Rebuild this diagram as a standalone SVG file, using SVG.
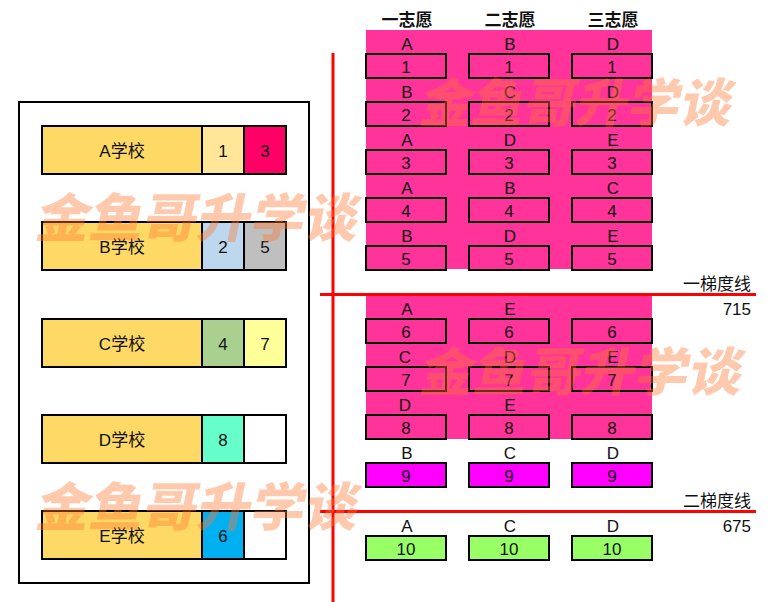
<svg xmlns="http://www.w3.org/2000/svg" width="767" height="602" viewBox="0 0 767 602">
<style>
text{font-family:"Liberation Sans","Noto Sans CJK SC",sans-serif;font-size:17px;fill:#111;text-anchor:middle}
.hd{font-family:"Noto Sans CJK SC",sans-serif;font-weight:bold;font-size:17px}
.lb{text-anchor:end}
.cell{stroke:#000;stroke-width:2}
.box{stroke:#000;stroke-width:2;fill:#FF3399}
.wm{font-family:"Noto Sans CJK SC",sans-serif;font-weight:900;font-size:52px;fill:#FF7832;fill-opacity:0.4;text-anchor:start}
.red{stroke:#FF0000;stroke-width:3}
</style>
<rect width="767" height="602" fill="#fff"/>
<g id="schools">
<rect x="19" y="102" width="290" height="481" fill="none" stroke="#000" stroke-width="2"/>
<g id="schoolA">
<rect class="cell" x="42" y="126" width="160" height="48" fill="#FFD966"/>
<rect class="cell" x="202" y="126" width="42" height="48" fill="#FFE699"/>
<rect class="cell" x="244" y="126" width="42" height="48" fill="#FF0066"/>
<text x="122" y="157">A学校</text><text x="223" y="157">1</text><text x="265" y="157">3</text>
</g>
<g id="schoolB">
<rect class="cell" x="42" y="222" width="160" height="48" fill="#FFD966"/>
<rect class="cell" x="202" y="222" width="42" height="48" fill="#BDD7EE"/>
<rect class="cell" x="244" y="222" width="42" height="48" fill="#BFBFBF"/>
<text x="122" y="253">B学校</text><text x="223" y="253">2</text><text x="265" y="253">5</text>
</g>
<g id="schoolC">
<rect class="cell" x="42" y="319" width="160" height="48" fill="#FFD966"/>
<rect class="cell" x="202" y="319" width="42" height="48" fill="#A9D08E"/>
<rect class="cell" x="244" y="319" width="42" height="48" fill="#FFFF99"/>
<text x="122" y="350">C学校</text><text x="223" y="350">4</text><text x="265" y="350">7</text>
</g>
<g id="schoolD">
<rect class="cell" x="42" y="415" width="160" height="48" fill="#FFD966"/>
<rect class="cell" x="202" y="415" width="42" height="48" fill="#66FFCC"/>
<rect class="cell" x="244" y="415" width="42" height="48" fill="#FFFFFF"/>
<text x="122" y="446">D学校</text><text x="223" y="446">8</text>
</g>
<g id="schoolE">
<rect class="cell" x="42" y="511" width="160" height="48" fill="#FFD966"/>
<rect class="cell" x="202" y="511" width="42" height="48" fill="#00B0F0"/>
<rect class="cell" x="244" y="511" width="42" height="48" fill="#FFFFFF"/>
<text x="122" y="542">E学校</text><text x="223" y="542">6</text>
</g>
</g>
<g id="background">
<rect x="366" y="30" width="286" height="239" fill="#FF3399"/>
<rect x="366" y="295" width="286" height="144" fill="#FF3399"/>
</g>
<g id="headers">
<text class="hd" x="407" y="26">一志愿</text>
<text class="hd" x="510" y="26">二志愿</text>
<text class="hd" x="613" y="26">三志愿</text>
</g>
<g id="rows">
<g id="row1"><text x="407" y="50">A</text><text x="510" y="50">B</text><text x="613" y="50">D</text>
<rect class="box" x="366" y="54" width="80" height="24"/><rect class="box" x="469" y="54" width="80" height="24"/><rect class="box" x="572" y="54" width="80" height="24"/>
<text x="406" y="73">1</text><text x="509" y="73">1</text><text x="612" y="73">1</text></g>
<g id="row2"><text x="407" y="98">B</text><text x="510" y="98">C</text><text x="613" y="98">D</text>
<rect class="box" x="366" y="102" width="80" height="24"/><rect class="box" x="469" y="102" width="80" height="24"/><rect class="box" x="572" y="102" width="80" height="24"/>
<text x="406" y="121">2</text><text x="509" y="121">2</text><text x="612" y="121">2</text></g>
<g id="row3"><text x="407" y="146">A</text><text x="510" y="146">D</text><text x="613" y="146">E</text>
<rect class="box" x="366" y="150" width="80" height="24"/><rect class="box" x="469" y="150" width="80" height="24"/><rect class="box" x="572" y="150" width="80" height="24"/>
<text x="406" y="169">3</text><text x="509" y="169">3</text><text x="612" y="169">3</text></g>
<g id="row4"><text x="407" y="194">A</text><text x="510" y="194">B</text><text x="613" y="194">C</text>
<rect class="box" x="366" y="198" width="80" height="24"/><rect class="box" x="469" y="198" width="80" height="24"/><rect class="box" x="572" y="198" width="80" height="24"/>
<text x="406" y="217">4</text><text x="509" y="217">4</text><text x="612" y="217">4</text></g>
<g id="row5"><text x="407" y="242">B</text><text x="510" y="242">D</text><text x="613" y="242">E</text>
<rect class="box" x="366" y="246" width="80" height="24"/><rect class="box" x="469" y="246" width="80" height="24"/><rect class="box" x="572" y="246" width="80" height="24"/>
<text x="406" y="265">5</text><text x="509" y="265">5</text><text x="612" y="265">5</text></g>
<g id="row6"><text x="407" y="315">A</text><text x="510" y="315">E</text>
<rect class="box" x="366" y="319" width="80" height="24"/><rect class="box" x="469" y="319" width="80" height="24"/><rect class="box" x="572" y="319" width="80" height="24"/>
<text x="406" y="338">6</text><text x="509" y="338">6</text><text x="612" y="338">6</text></g>
<g id="row7"><text x="405" y="363">C</text><text x="510" y="363">D</text><text x="613" y="363">E</text>
<rect class="box" x="366" y="367" width="80" height="24"/><rect class="box" x="469" y="367" width="80" height="24"/><rect class="box" x="572" y="367" width="80" height="24"/>
<text x="406" y="386">7</text><text x="509" y="386">7</text><text x="612" y="386">7</text></g>
<g id="row8"><text x="405" y="411">D</text><text x="510" y="411">E</text>
<rect class="box" x="366" y="415" width="80" height="24"/><rect class="box" x="469" y="415" width="80" height="24"/><rect class="box" x="572" y="415" width="80" height="24"/>
<text x="406" y="434">8</text><text x="509" y="434">8</text><text x="612" y="434">8</text></g>
<g id="row9"><text x="407" y="459">B</text><text x="510" y="459">C</text><text x="613" y="459">D</text>
<rect class="box" x="366" y="463" width="80" height="24" style="fill:#FF00FF"/><rect class="box" x="469" y="463" width="80" height="24" style="fill:#FF00FF"/><rect class="box" x="572" y="463" width="80" height="24" style="fill:#FF00FF"/>
<text x="406" y="482">9</text><text x="509" y="482">9</text><text x="612" y="482">9</text></g>
<g id="row10"><text x="407" y="532">A</text><text x="510" y="532">C</text><text x="613" y="532">D</text>
<rect class="box" x="366" y="536" width="80" height="24" style="fill:#99FF66"/><rect class="box" x="469" y="536" width="80" height="24" style="fill:#99FF66"/><rect class="box" x="572" y="536" width="80" height="24" style="fill:#99FF66"/>
<text x="406" y="555">10</text><text x="509" y="555">10</text><text x="612" y="555">10</text></g>
</g>
<g id="connectors">
<line class="red" x1="333" y1="53" x2="333" y2="602"/>
<line class="red" x1="320" y1="294.5" x2="756" y2="294.5"/>
<line class="red" x1="320" y1="511.5" x2="756" y2="511.5"/>
</g>
<g id="labels">
<text class="lb" x="751" y="290">一梯度线</text>
<text class="lb" x="751" y="315">715</text>
<text class="lb" x="751" y="507">二梯度线</text>
<text class="lb" x="751" y="532">675</text>
</g>
<g id="watermarks">
<text class="wm" transform="translate(34,237) skewX(-12)" textLength="322" lengthAdjust="spacingAndGlyphs">金鱼哥升学谈</text>
<text class="wm" transform="translate(418,122) skewX(-12)" textLength="312" lengthAdjust="spacingAndGlyphs">金鱼哥升学谈</text>
<text class="wm" transform="translate(418,391) skewX(-12)" textLength="322" lengthAdjust="spacingAndGlyphs">金鱼哥升学谈</text>
<text class="wm" transform="translate(34,526) skewX(-12)" textLength="322" lengthAdjust="spacingAndGlyphs">金鱼哥升学谈</text>
</g>
</svg>
